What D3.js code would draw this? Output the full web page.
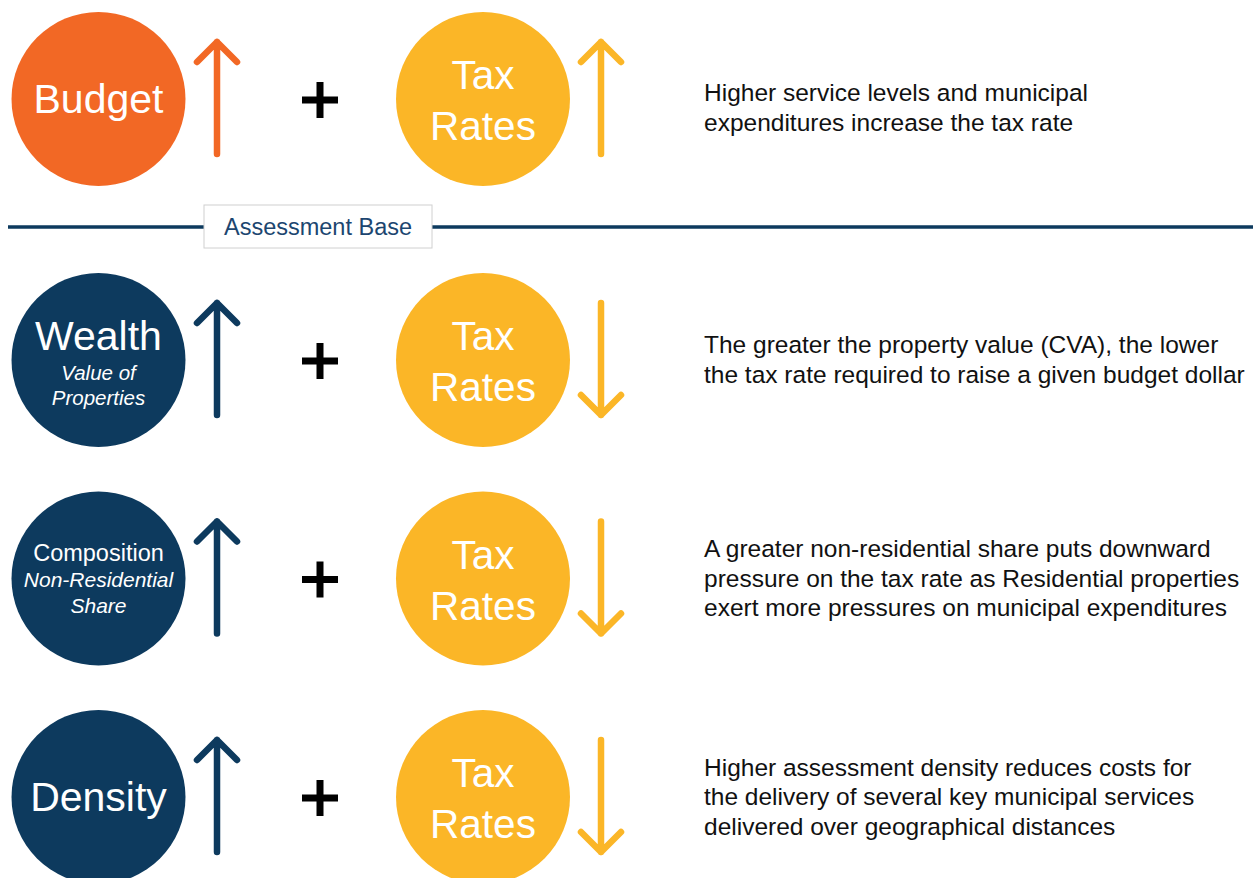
<!DOCTYPE html>
<html>
<head>
<meta charset="utf-8">
<script src="https://cdn.jsdelivr.net/npm/d3@7"></script>
<style>
  html, body { margin: 0; padding: 0; background: #fff; }
  svg { display: block; font-family: "Liberation Sans", Arial, sans-serif; }
</style>
</head>
<body>
<svg id="chart" width="1260" height="878"></svg>
<script>
// drivers shown on the left, one per row
var drivers = ["Budget", "Wealth", "Composition", "Density"];
var driverSub = [[], ["Value of", "Properties"], ["Non-Residential", "Share"], []];
var driverDir = ["up", "up", "up", "up"];
var taxDir = ["up", "down", "down", "down"];
var descriptions = [
  ["Higher service levels and municipal", "expenditures increase the tax rate"],
  ["The greater the property value (CVA), the lower", "the tax rate required to raise a given budget dollar"],
  ["A greater non-residential share puts downward", "pressure on the tax rate as Residential properties", "exert more pressures on municipal expenditures"],
  ["Higher assessment density reduces costs for", "the delivery of several key municipal services", "delivered over geographical distances"]
];
var taxLabel = ["Tax", "Rates"];
var sectionLabel = "Assessment Base";

var ORANGE = "#f26825", YELLOW = "#fbb627", NAVY = "#0d3a5e", INK = "#111";

var svg = d3.select("#chart");

// rows below the divider are evenly spaced, the budget row sits above it
var rowScale = d3.scalePoint().domain(drivers.slice(1)).range([360, 797]);
function rowY(d, i) { return i === 0 ? 99 : rowScale(d); }

var colX = { circle: 98.5, arrow1: 217, plus: 320, tax: 483, arrow2: 601, text: 704 };
var R = 87;

function arrowPath(x, cy, dir) {
  var top = cy - 57, bot = cy + 55, w = 20;
  if (dir === "up") {
    return "M" + x + "," + bot + "L" + x + "," + top +
      "M" + (x - w) + "," + (top + w) + "L" + x + "," + top + "L" + (x + w) + "," + (top + w);
  }
  return "M" + x + "," + top + "L" + x + "," + bot +
    "M" + (x - w) + "," + (bot - w) + "L" + x + "," + bot + "L" + (x + w) + "," + (bot - w);
}

// divider
svg.append("line")
  .attr("x1", 8).attr("x2", 1253).attr("y1", 227).attr("y2", 227)
  .attr("stroke", NAVY).attr("stroke-width", 3.5);
svg.append("rect")
  .attr("x", 204).attr("y", 205).attr("width", 228).attr("height", 43)
  .attr("fill", "#fff").attr("stroke", "#d0d0d0").attr("stroke-width", 1);
svg.append("text")
  .attr("x", 318).attr("y", 235).attr("text-anchor", "middle")
  .attr("font-size", 23.5).attr("fill", "#1c4670")
  .text(sectionLabel);

var rows = svg.selectAll("g.row")
  .data(drivers)
  .enter()
  .append("g")
  .attr("class", "row")
  .attr("transform", function(d, i) { return "translate(0," + rowY(d, i) + ")"; });

rows.append("circle")
  .attr("cx", colX.circle).attr("cy", 0).attr("r", R)
  .attr("fill", function(d, i) { return i === 0 ? ORANGE : NAVY; });

rows.each(function(d, i) {
  var g = d3.select(this);
  var subs = driverSub[i];
  if (!subs.length) {
    g.append("text")
      .attr("x", colX.circle).attr("y", 14).attr("text-anchor", "middle")
      .attr("font-size", 41).attr("fill", "#fff").text(d);
  } else if (d === "Wealth") {
    g.append("text")
      .attr("x", colX.circle).attr("y", -10).attr("text-anchor", "middle")
      .attr("font-size", 41).attr("fill", "#fff").text(d);
    g.selectAll("text.sub").data(subs).enter().append("text")
      .attr("class", "sub")
      .attr("x", colX.circle).attr("y", function(s, j) { return 20 + j * 25; })
      .attr("text-anchor", "middle").attr("font-size", 20.5)
      .attr("font-style", "italic").attr("fill", "#fff").text(function(s) { return s; });
  } else {
    g.append("text")
      .attr("x", colX.circle).attr("y", -18).attr("text-anchor", "middle")
      .attr("font-size", 23.5).attr("fill", "#fff").text(d);
    g.selectAll("text.sub").data(subs).enter().append("text")
      .attr("class", "sub")
      .attr("x", colX.circle).attr("y", function(s, j) { return 8 + j * 26; })
      .attr("text-anchor", "middle").attr("font-size", 21)
      .attr("font-style", "italic").attr("fill", "#fff").text(function(s) { return s; });
  }
});

rows.append("path")
  .attr("d", function(d, i) { return arrowPath(colX.arrow1, 0, driverDir[i]); })
  .attr("fill", "none")
  .attr("stroke", function(d, i) { return i === 0 ? ORANGE : NAVY; })
  .attr("stroke-width", 6.5)
  .attr("stroke-linecap", "round").attr("stroke-linejoin", "round");

// plus sign
rows.append("path")
  .attr("d", "M" + (colX.plus - 18) + ",1H" + (colX.plus + 18) + "M" + colX.plus + ",-17V19")
  .attr("stroke", "#000").attr("stroke-width", 7).attr("fill", "none");

rows.append("circle")
  .attr("cx", colX.tax).attr("cy", 0).attr("r", R)
  .attr("fill", YELLOW);

rows.selectAll("text.tax")
  .data(taxLabel)
  .enter()
  .append("text")
  .attr("class", "tax")
  .attr("x", colX.tax).attr("y", function(s, j) { return -10 + j * 51; })
  .attr("text-anchor", "middle").attr("font-size", 40.5)
  .attr("fill", "#fff").text(function(s) { return s; });

rows.append("path")
  .attr("d", function(d, i) { return arrowPath(colX.arrow2, 0, taxDir[i]); })
  .attr("fill", "none")
  .attr("stroke", YELLOW)
  .attr("stroke-width", 6.5)
  .attr("stroke-linecap", "round").attr("stroke-linejoin", "round");

rows.each(function(d, i) {
  var lines = descriptions[i];
  var shift = i === 0 ? 9 : 0;
  var first = shift + 8 - (lines.length - 1) * 29.5 / 2;
  d3.select(this).selectAll("text.desc")
    .data(lines)
    .enter()
    .append("text")
    .attr("class", "desc")
    .attr("x", colX.text).attr("y", function(s, j) { return first + j * 29.5; })
    .attr("font-size", 24.5).attr("fill", INK)
    .text(function(s) { return s; });
});
</script>
</body>
</html>
